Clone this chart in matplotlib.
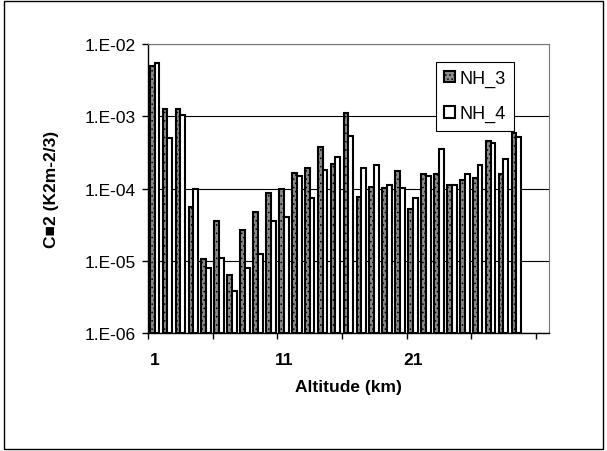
import numpy as np
import matplotlib
matplotlib.use("Agg")
import matplotlib.pyplot as plt
from matplotlib.patches import Rectangle
from matplotlib.ticker import FixedLocator, FuncFormatter

plt.rcParams['font.family'] = ['Liberation Sans', 'DejaVu Sans']
plt.rcParams['hatch.linewidth'] = 0.6

# Altitude categories (km) and Cn2 values
altitude = list(range(1, 30))
n_categories = 31
nh3 = [5.0e-3, 1.26e-3, 1.26e-3, 5.4e-5, 9.5e-6, 3.5e-5, 5.3e-6, 2.6e-5,
       4.6e-5, 8.7e-5, 9.8e-5, 1.62e-4, 1.92e-4, 3.8e-4, 2.2e-4, 1.11e-3,
       7.6e-5, 1.04e-4, 1.0e-4, 1.77e-4, 5.2e-5, 1.58e-4, 1.6e-4, 1.1e-4,
       1.3e-4, 1.4e-4, 4.6e-4, 1.58e-4, 5.8e-4]
nh4 = [5.5e-3, 4.95e-4, 1.04e-3, 9.8e-5, 6.9e-6, 1.0e-5, 2.8e-6, 6.9e-6,
       1.15e-5, 3.5e-5, 4.0e-5, 1.5e-4, 7.2e-5, 1.8e-4, 2.7e-4, 5.3e-4,
       1.9e-4, 2.1e-4, 1.1e-4, 1.0e-4, 7.4e-5, 1.5e-4, 3.5e-4, 1.1e-4,
       1.58e-4, 2.1e-4, 4.3e-4, 2.6e-4, 5.1e-4]
y_ticks = [1e-6, 1e-5, 1e-4, 1e-3, 1e-2]
x_labels = [1, 11, 21]

fig = plt.figure(figsize=(6.07, 4.52), dpi=100)
fig.patches.append(Rectangle((0.006, 0.004), 0.988, 0.992, transform=fig.transFigure,
                             fill=False, edgecolor='black', linewidth=1.0))
ax = fig.add_axes([0.244, 0.261, 0.66, 0.639])
ax.set_yscale('log')

x = np.array(altitude)
w = 0.37
ax.bar(x - w / 2, nh3, width=w, bottom=1e-6, color='#8c8c8c', edgecolor='black',
       linewidth=1.5, hatch='....', label='NH_3', zorder=3)
ax.bar(x + w / 2, nh4, width=w, bottom=1e-6, color='white', edgecolor='black',
       linewidth=1.5, label='NH_4', zorder=3)

ax.set_ylim(1e-6, 1e-2)
ax.set_xlim(0.5, n_categories + 0.5)
ax.yaxis.set_major_locator(FixedLocator(y_ticks))
ax.yaxis.set_minor_locator(FixedLocator([]))
ax.yaxis.set_major_formatter(FuncFormatter(lambda v, p: "1.E%03d" % int(round(np.log10(v)))))
ax.grid(axis='y', color='black', linewidth=0.8, zorder=0)

ax.set_xticks(np.arange(0.5, n_categories + 1, 5))
ax.set_xticklabels([])
ax.set_xticks(x_labels, minor=True)
ax.set_xticklabels([str(v) for v in x_labels], minor=True, fontweight='bold')
ax.tick_params(axis='x', which='minor', length=0, pad=14, labelsize=12.5)
ax.tick_params(axis='x', which='major', length=4, width=1, direction='out')
ax.tick_params(axis='y', length=4, width=1, direction='out', labelsize=12.5, pad=5)

for s in ['top', 'right']:
    ax.spines[s].set_color('#777777')
    ax.spines[s].set_linestyle((0, (1, 1)))
    ax.spines[s].set_linewidth(0.8)
for s in ['left', 'bottom']:
    ax.spines[s].set_linewidth(1.0)

ax.set_xlabel('Altitude (km)', fontsize=12.5, fontweight='bold', labelpad=8)
ax.set_ylabel('C\u25a02 (K2m-2/3)', fontsize=12.5, fontweight='bold', labelpad=18)

leg = ax.legend(loc='upper right', bbox_to_anchor=(0.935, 0.97), fontsize=13,
                frameon=True, fancybox=False, edgecolor='black', framealpha=1,
                handlelength=0.6, handleheight=0.6, handletextpad=0.25,
                labelspacing=1.0, borderpad=0.45)
leg.get_frame().set_linewidth(0.8)
leg.set_zorder(5)

fig.savefig('out.png', dpi=100)
